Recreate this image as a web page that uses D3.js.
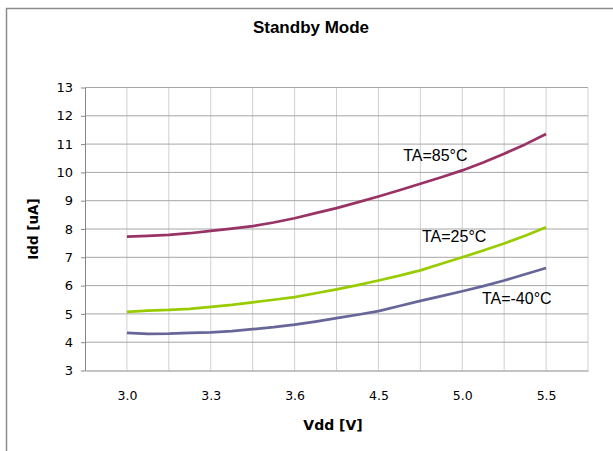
<!DOCTYPE html>
<html>
<head>
<meta charset="utf-8">
<script src="https://cdn.jsdelivr.net/npm/d3@7"></script>
<style>
    body { margin: 0; background: #fff; }
    svg { display: block; }
</style>
</head>
<body>
<div id="chart"></div>
<script>
// category slots along the x axis (gridlines every slot, labels every other)
const slots = [1, 1.5, 2, 2.5, 3, 3.5, 4, 4.5, 5, 5.5, 6, 6.5, 7, 7.5, 8, 8.5, 9, 9.5, 10, 10.5, 11]
const tickSlots = [1, 3, 5, 7, 9, 11]
const tickLabels = ['3.0', '3.3', '3.6', '4.5', '5.0', '5.5']
const yTicks = [3, 4, 5, 6, 7, 8, 9, 10, 11, 12, 13]

// Idd [uA]
const ta85 = [7.73, 7.76, 7.79, 7.85, 7.93, 8.01, 8.1, 8.23, 8.38, 8.56, 8.74, 8.94, 9.15, 9.37, 9.6, 9.83, 10.07, 10.35, 10.66, 10.99, 11.36]
const ta25 = [5.07, 5.12, 5.14, 5.18, 5.25, 5.32, 5.41, 5.5, 5.59, 5.73, 5.87, 6.02, 6.18, 6.35, 6.54, 6.77, 7.0, 7.24, 7.49, 7.76, 8.06]
const taM40 = [4.33, 4.29, 4.3, 4.33, 4.35, 4.39, 4.46, 4.53, 4.62, 4.73, 4.85, 4.97, 5.1, 5.28, 5.46, 5.63, 5.8, 5.98, 6.18, 6.4, 6.62]

const seriesNames = ['TA=85°C', 'TA=25°C', 'TA=-40°C']
const seriesColours = ['#993366', '#99cc00', '#666699']
// where each label sits, in (slot, value)
const labelPos = [[7.59, 10.4], [8.04, 7.54], [9.47, 5.35]]

const chartWidth = 613
const chartHeight = 451
const plotLeft = 85, plotRight = 588, plotTop = 87.5, plotBottom = 370.5

const svg = d3.select('#chart')
    .append('svg')
    .attr('width', chartWidth)
    .attr('height', chartHeight)

// outer chart frame (runs off the right and bottom edges)
svg.append('rect')
    .attr('x', 6.5).attr('y', 8.5)
    .attr('width', 640).attr('height', 480)
    .attr('fill', 'none')
    .attr('stroke', '#8c8c8c')
    .attr('stroke-width', 1.5)

const x = d3.scaleLinear().domain([0, 12]).range([plotLeft, plotRight])
const y = d3.scaleLinear().domain([3, 13]).range([plotBottom, plotTop])

// vertical gridlines
svg.append('g')
    .selectAll('line')
    .data(d3.range(1, 13))
    .enter()
    .append('line')
    .attr('x1', d => x(d)).attr('x2', d => x(d))
    .attr('y1', plotTop).attr('y2', plotBottom)
    .attr('stroke', '#d0d0d0')
    .attr('stroke-width', 1)

// horizontal gridlines
svg.append('g')
    .selectAll('line')
    .data(yTicks.slice(1))
    .enter()
    .append('line')
    .attr('x1', plotLeft).attr('x2', plotRight)
    .attr('y1', d => y(d)).attr('y2', d => y(d))
    .attr('stroke', '#a6a6a6')
    .attr('stroke-width', 1)

// y axis
const yAxis = svg.append('g')
    .attr('transform', `translate(${plotLeft}, 0)`)
    .call(d3.axisLeft(y).tickValues(yTicks).tickSize(4).tickSizeOuter(0).tickPadding(8))
yAxis.select('.domain').attr('stroke', '#888')
yAxis.selectAll('.tick line').attr('stroke', '#888')
yAxis.selectAll('text')
    .attr('font-family', 'DejaVu Sans')
    .attr('font-size', 13)
    .attr('fill', '#000')

// x axis
const xAxis = svg.append('g')
    .attr('transform', `translate(0, ${plotBottom})`)
    .call(d3.axisBottom(x).tickValues(tickSlots).tickFormat((d, i) => tickLabels[i]).tickSize(0).tickPadding(21))
xAxis.select('.domain').attr('stroke', '#888')
xAxis.selectAll('text')
    .attr('font-family', 'DejaVu Sans')
    .attr('font-size', 12.5)
    .attr('fill', '#000')

// lines
const line = d3.line()
    .x((d, i) => x(slots[i]))
    .y(d => y(d))

svg.append('g')
    .selectAll('path')
    .data([ta85, ta25, taM40])
    .enter()
    .append('path')
    .attr('d', line)
    .attr('fill', 'none')
    .attr('stroke', (d, i) => seriesColours[i])
    .attr('stroke-width', 2.75)
    .attr('stroke-linejoin', 'round')

// series labels
svg.append('g')
    .selectAll('text')
    .data(seriesNames)
    .enter()
    .append('text')
    .attr('x', (d, i) => x(labelPos[i][0]))
    .attr('y', (d, i) => y(labelPos[i][1]))
    .attr('font-family', 'Liberation Sans, Arial, sans-serif')
    .attr('font-size', 16)
    .text(d => d)

// titles
svg.append('text')
    .attr('x', 311).attr('y', 33)
    .attr('text-anchor', 'middle')
    .attr('font-family', 'Liberation Sans, Arial, sans-serif')
    .attr('font-weight', 'bold')
    .attr('font-size', 17)
    .text('Standby Mode')

svg.append('text')
    .attr('x', 333).attr('y', 430)
    .attr('text-anchor', 'middle')
    .attr('font-family', 'DejaVu Sans')
    .attr('font-weight', 'bold')
    .attr('font-size', 14)
    .text('Vdd [V]')

svg.append('text')
    .attr('transform', `translate(38, ${(plotTop + plotBottom) / 2}) rotate(-90)`)
    .attr('text-anchor', 'middle')
    .attr('font-family', 'DejaVu Sans')
    .attr('font-weight', 'bold')
    .attr('font-size', 13.5)
    .text('Idd [uA]')
</script>
</body>
</html>
